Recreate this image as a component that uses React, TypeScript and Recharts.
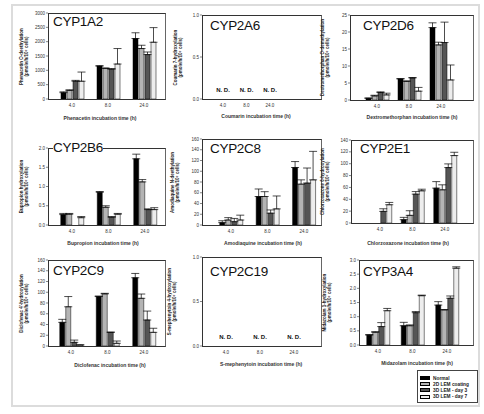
import { BarChart, Bar, XAxis, YAxis, ErrorBar, ReferenceDot } from "recharts";

const times = ["4.0", "8.0", "24.0"];
const seriesNames = ["Normal", "2D LEM coating", "3D LEM - day 3", "3D LEM - day 7"];
const seriesFills = ["#000000", "#b4b4b4", "#555555", "#ededed"];

// one row per series (Normal, 2D coating, 3D day 3, 3D day 7), one value per time point
const cyp1a2Val = [[220, 1150, 2110], [300, 1070, 1760], [620, 1040, 1550], [620, 1220, 1980]];
const cyp1a2Err = [[30, 10, 200], [20, 10, 115], [30, 20, 90], [320, 540, 510]];

const cyp2d6Val = [[0.5, 6.2, 21.3], [1.2, 5.5, 16.2], [2.2, 6.5, 16.9], [1.5, 2.6, 5.9]];
const cyp2d6Err = [[0.1, 0.1, 1.4], [0.2, 0.1, 0.8], [0.2, 0.1, 6.0], [0.5, 1.1, 4.4]];

const cyp2b6Val = [[0.27, 0.85, 1.72], [0.28, 0.46, 1.12], [null, 0.2, 0.4], [0.19, 0.28, 0.4]];
const cyp2b6Err = [[0.03, 0.02, 0.12], [0.02, 0.04, 0.06], [null, 0.02, 0.02], [0.03, 0.02, 0.05]];

const cyp2c8Val = [[4.4, 53, 107], [9.3, 53, 76], [6.2, 22, 78], [9.3, 30, 84]];
const cyp2c8Err = [[3.5, 14, 11], [4.4, 9, 8], [6, 6, 28], [9, 24, 53]];

const cyp2e1Val = [[null, 5.6, 58.8], [null, 12.9, 56], [19.6, 48.7, 93.5], [30.8, 54.3, 113.7]];
const cyp2e1Err = [[null, 3.9, 11], [null, 7.8, 8.4], [4.4, 4.3, 6.2], [3.9, 2.7, 5.6]];

const cyp2c9Val = [[44, 92, 127], [73, 97, 88.7], [6.8, 25.4, 48.4], [1.9, 5, 25.4]];
const cyp2c9Err = [[5.6, 1, 8], [19, 1, 8], [4.2, 0.5, 16.6], [0.3, 4.3, 7.6]];

const cyp3a4Val = [[0.35, 0.68, 1.41], [0.45, 0.68, 1.24], [0.65, 1.14, 1.65], [1.21, 1.74, 2.71]];
const cyp3a4Err = [[0.02, 0.12, 0.12], [0.02, 0.03, 0.01], [0.14, 0.04, 0.08], [0.08, 0.02, 0.05]];

// not detected -> label sits on the zero line
const ndLabel = "N. D.";

const FONT = "'Liberation Sans', Arial, sans-serif";
const AXW = 24;
const PADT = 5;
const XAH = 14;

type Num = number | null;

const fmt0 = (v: number) => String(v);
const fmt1 = (v: number) => v.toFixed(1);

function buildRows(vals?: Num[][], errs?: Num[][]) {
  return times.map((t, i) => {
    const row: Record<string, unknown> = { time: t };
    if (vals && errs) {
      vals.forEach((s, k) => {
        const e = errs[k][i];
        row["s" + k] = s[i];
        row["e" + k] = s[i] == null || e == null ? null : [0, e];
      });
    }
    return row;
  });
}

type PanelProps = {
  title: string;
  yLabel: string;
  xLabel: string;
  x0: number;
  x1: number;
  yTop: number;
  yZero: number;
  centers: number[];
  max: number;
  ticks: number[];
  fmt: (v: number) => string;
  vals?: Num[][];
  errs?: Num[][];
  titleX: number;
  titleY: number;
  yLabelX: number;
  xLabelX: number;
  xLabelY: number;
};

const NdText = (props: any) => (
  <text
    x={props.cx}
    y={props.cy - 7}
    textAnchor="middle"
    fontSize={6}
    fontWeight={700}
    fill="#111"
    fontFamily={FONT}
  >
    {ndLabel}
  </text>
);

function Panel(p: PanelProps) {
  const band = (p.centers[2] - p.centers[0]) / 2;
  const padL = Math.max(0, p.centers[0] - band / 2 - p.x0);
  const padR = Math.max(0, p.x1 - (p.centers[2] + band / 2));
  const w = p.x1 - p.x0 + AXW + 2;
  const plotH = p.yZero - p.yTop;
  const h = plotH + PADT + XAH;
  const data = buildRows(p.vals, p.errs);
  const cy = (p.yTop + p.yZero) / 2;
  const labelLen = plotH + 40;
  return (
    <>
      <div style={{ position: "absolute", left: p.x0 - AXW, top: p.yTop - PADT }}>
        <BarChart
          width={w}
          height={h}
          data={data}
          margin={{ top: PADT, right: 2, bottom: 0, left: 0 }}
          barSize={5}
          barGap={1}
        >
          <XAxis
            dataKey="time"
            height={XAH}
            padding={{ left: padL, right: padR }}
            axisLine={false}
            tickLine={false}
            tickSize={4}
            tickMargin={1}
            interval={0}
            tick={{ fontSize: 4.5, fill: "#333", fontFamily: FONT }}
          />
          <YAxis
            width={AXW}
            domain={[0, p.max]}
            ticks={p.ticks}
            tickFormatter={p.fmt}
            allowDataOverflow
            axisLine={false}
            tickSize={2}
            tickMargin={1}
            tickLine={{ stroke: "#333", strokeWidth: 0.6 }}
            tick={{ fontSize: 4.5, fill: "#333", fontFamily: FONT }}
          />
          {p.vals
            ? seriesFills.map((f, k) => (
                <Bar
                  key={k}
                  dataKey={"s" + k}
                  fill={f}
                  stroke="#000"
                  strokeWidth={0.5}
                  isAnimationActive={false}
                >
                  <ErrorBar dataKey={"e" + k} width={4} stroke="#000" strokeWidth={0.7} />
                </Bar>
              ))
            : times.map((t) => (
                <ReferenceDot key={t} x={t} y={0} r={1} ifOverflow="visible" shape={NdText} />
              ))}
        </BarChart>
      </div>
      <div
        style={{
          position: "absolute",
          left: p.x0,
          top: p.yTop,
          width: p.x1 - p.x0,
          height: plotH + 1,
          border: "1px solid #333",
          borderRightColor: "#666",
          boxSizing: "border-box",
          pointerEvents: "none",
        }}
      />
      <div
        style={{
          position: "absolute",
          left: p.titleX,
          top: p.titleY - 3,
          fontSize: 13.5,
          lineHeight: "14px",
          letterSpacing: -0.3,
          fontFamily: FONT,
          color: "#111",
          background: "#fff",
          whiteSpace: "nowrap",
        }}
      >
        {p.title}
      </div>
      <div
        style={{
          position: "absolute",
          left: p.yLabelX - labelLen / 2,
          top: cy - 5.5,
          width: labelLen,
          height: 11,
          transform: "rotate(-90deg)",
          transformOrigin: "center",
          textAlign: "center",
          fontSize: 4.5,
          lineHeight: "5.2px",
          fontWeight: 700,
          fontFamily: FONT,
          color: "#222",
          whiteSpace: "nowrap",
        }}
      >
        {p.yLabel}
        <br />
        (pmole/h/10⁶ cells)
      </div>
      <div
        style={{
          position: "absolute",
          left: p.xLabelX - 70,
          top: p.xLabelY - 3,
          width: 140,
          textAlign: "center",
          fontSize: 5,
          lineHeight: "6px",
          fontWeight: 700,
          fontFamily: FONT,
          color: "#333",
          whiteSpace: "nowrap",
        }}
      >
        {p.xLabel}
      </div>
    </>
  );
}

const ticks1 = [0, 0.5, 1];

const panels: PanelProps[] = [
  {
    title: "CYP1A2", yLabel: "Phenacetin O-deethylation", xLabel: "Phenacetin incubation time (h)",
    x0: 48, x1: 166, yTop: 13, yZero: 99, centers: [72, 109, 144],
    max: 3000, ticks: [0, 500, 1000, 1500, 2000, 2500, 3000], fmt: fmt0,
    vals: cyp1a2Val, errs: cyp1a2Err,
    titleX: 53, titleY: 18, yLabelX: 23.5, xLabelX: 100, xLabelY: 118,
  },
  {
    title: "CYP2A6", yLabel: "Coumarin 7-hydroxylation", xLabel: "Coumarin incubation time (h)",
    x0: 202, x1: 322, yTop: 15, yZero: 99, centers: [223, 247, 270],
    max: 1, ticks: ticks1, fmt: fmt1,
    titleX: 210, titleY: 22, yLabelX: 177.5, xLabelX: 256, xLabelY: 116,
  },
  {
    title: "CYP2D6", yLabel: "Dextromethorphan O-demethylation", xLabel: "Dextromethorphan incubation time (h)",
    x0: 350, x1: 474, yTop: 15, yZero: 100, centers: [377, 409, 441],
    max: 25, ticks: [0, 5, 10, 15, 20, 25], fmt: fmt0,
    vals: cyp2d6Val, errs: cyp2d6Err,
    titleX: 363, titleY: 22, yLabelX: 325, xLabelX: 412, xLabelY: 117,
  },
  {
    title: "CYP2B6", yLabel: "Bupropion hydroxylation", xLabel: "Bupropion incubation time (h)",
    x0: 48, x1: 166, yTop: 148, yZero: 225, centers: [72, 107, 145],
    max: 2, ticks: [0, 0.5, 1, 1.5, 2], fmt: fmt1,
    vals: cyp2b6Val, errs: cyp2b6Err,
    titleX: 53, titleY: 144, yLabelX: 24.5, xLabelX: 103, xLabelY: 243,
  },
  {
    title: "CYP2C8", yLabel: "Amodiaquine N-deethylation", xLabel: "Amodiaquine incubation time (h)",
    x0: 202, x1: 322, yTop: 139, yZero: 225, centers: [231, 267, 304],
    max: 160, ticks: [0, 20, 40, 60, 80, 100, 120, 140, 160], fmt: fmt0,
    vals: cyp2c8Val, errs: cyp2c8Err,
    titleX: 210, titleY: 145, yLabelX: 175, xLabelX: 263, xLabelY: 243,
  },
  {
    title: "CYP2E1", yLabel: "Chlorzoxazone 6-hydroxylation", xLabel: "Chlorzoxazone incubation time (h)",
    x0: 351, x1: 474, yTop: 140, yZero: 223, centers: [380, 409, 445],
    max: 140, ticks: [0, 20, 40, 60, 80, 100, 120, 140], fmt: fmt0,
    vals: cyp2e1Val, errs: cyp2e1Err,
    titleX: 360, titleY: 145, yLabelX: 325.5, xLabelX: 408, xLabelY: 243,
  },
  {
    title: "CYP2C9", yLabel: "Diclofenac 4'-hydroxylation", xLabel: "Diclofenac incubation time (h)",
    x0: 48, x1: 166, yTop: 260, yZero: 346, centers: [71, 107, 144],
    max: 160, ticks: [0, 20, 40, 60, 80, 100, 120, 140, 160], fmt: fmt0,
    vals: cyp2c9Val, errs: cyp2c9Err,
    titleX: 53, titleY: 267, yLabelX: 23.5, xLabelX: 110, xLabelY: 365,
  },
  {
    title: "CYP2C19", yLabel: "S-mephenytoin 4-hydroxylation", xLabel: "S-mephenytoin incubation time (h)",
    x0: 202, x1: 322, yTop: 257, yZero: 346, centers: [226, 257, 294],
    max: 1, ticks: ticks1, fmt: fmt1,
    titleX: 210, titleY: 268, yLabelX: 172, xLabelX: 261, xLabelY: 364,
  },
  {
    title: "CYP3A4", yLabel: "Midazolam 1-hydroxylation", xLabel: "Midazolam incubation time (h)",
    x0: 359, x1: 474, yTop: 260, yZero: 345, centers: [378, 414, 447],
    max: 3, ticks: [0, 0.5, 1, 1.5, 2, 2.5, 3], fmt: fmt1,
    vals: cyp3a4Val, errs: cyp3a4Err,
    titleX: 363, titleY: 268, yLabelX: 327, xLabelX: 417, xLabelY: 363,
  },
];

export default function App() {
  return (
    <div
      style={{
        position: "absolute",
        left: 0,
        top: 0,
        width: 484,
        height: 414,
        background: "#fff",
        overflow: "hidden",
        fontFamily: FONT,
      }}
    >
      <div
        style={{
          position: "absolute",
          left: 11,
          top: 4,
          width: 469,
          height: 403,
          border: "2px solid #dcdcdc",
          boxSizing: "border-box",
        }}
      />
      {panels.map((p) => (
        <Panel key={p.title} {...p} />
      ))}
      <div
        style={{
          position: "absolute",
          left: 417,
          top: 370,
          width: 61,
          height: 33,
          border: "1px solid #444",
          boxSizing: "border-box",
          padding: "4px 0 0 2px",
          background: "#fff",
        }}
      >
        {seriesNames.map((n, k) => (
          <div key={n} style={{ display: "flex", alignItems: "center", height: 6.2 }}>
            <span
              style={{
                display: "inline-block",
                width: 10,
                height: 4,
                background: seriesFills[k],
                border: "0.6px solid #000",
                boxSizing: "border-box",
                marginRight: 3,
              }}
            />
            <span style={{ fontSize: 4.8, fontWeight: 700, color: "#222", whiteSpace: "nowrap" }}>{n}</span>
          </div>
        ))}
      </div>
    </div>
  );
}
